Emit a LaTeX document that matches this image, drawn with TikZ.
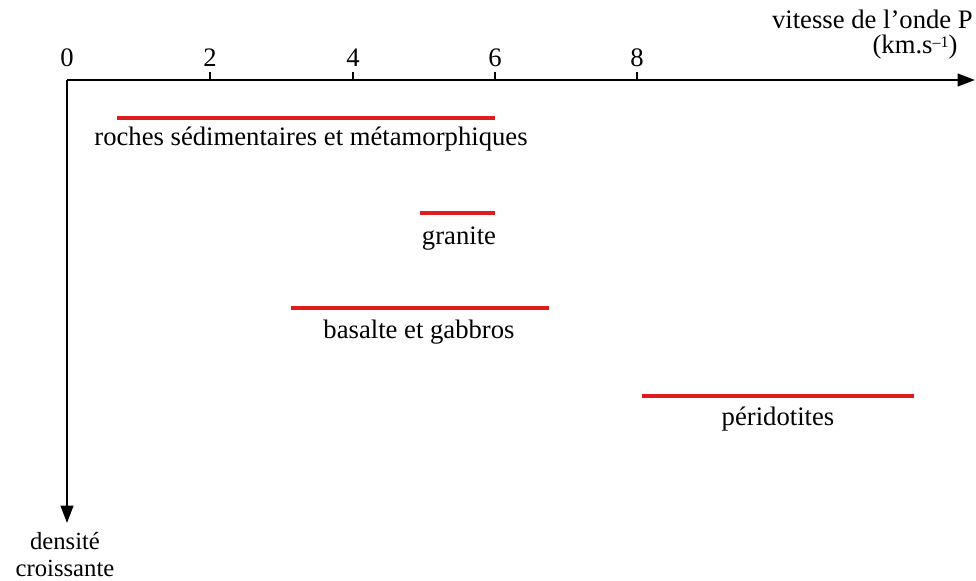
\documentclass[tikz,border=0pt]{standalone}
\usepackage{fontspec}
\setmainfont{Liberation Serif}
\usetikzlibrary{arrows.meta}
\definecolor{rockred}{RGB}{222,28,28}
\tikzset{
  axisline/.style={line width=1.4pt, -{Triangle[length=13pt,width=9.5pt]}},
  tickline/.style={line width=1.2pt},
  rockrange/.style={line width=2.4pt, rockred},
  lbl/.style={font=\fontsize{20}{22}\selectfont, inner sep=0pt},
  tightlbl/.style={font=\fontsize{18.5}{20}\selectfont, inner sep=0pt, text height=13pt, text depth=0pt, anchor=base},
  ticklbl/.style={font=\fontsize{20}{22}\selectfont, inner sep=0pt, anchor=base},
}
\begin{document}
\begin{tikzpicture}[x=0.75pt,y=-0.75pt]
\useasboundingbox (0,0) rectangle (976,581);
% axes
\coordinate (O) at (67,80);
\coordinate (xend) at (975,80);
\coordinate (yend) at (67,523);
\draw[axisline] (O) -- (xend);
\draw[axisline] (O) -- (yend);
% ticks
\foreach \v/\px in {2/210,4/353,6/495,8/637}{
  \coordinate (t\v) at (\px,80);
  \draw[tickline] (t\v) -- ++(0,-8);
  \node[ticklbl] (tl\v) at (\px,67) {\v};
}
\node[ticklbl] (tl0) at (67,67) {0};
% axis labels
\node[lbl, anchor=base east] (xl1) at (973,29) {vitesse de l’onde P};
\node[lbl, anchor=base] (xl2) at (915,54) {(km.s\raisebox{0.5ex}{\fontsize{12}{12}\selectfont –1})};
\node[tightlbl] (yl1) at (65,549) {densité};
\node[tightlbl] (yl2) at (65,576) {croissante};
% ranges
\coordinate (r1a) at (117,118); \coordinate (r1b) at (495,118);
\draw[rockrange] (r1a) -- (r1b);
\node[lbl, anchor=base] (n1) at (311,146) {roches sédimentaires et métamorphiques};
\coordinate (r2a) at (420,213); \coordinate (r2b) at (495,213);
\draw[rockrange] (r2a) -- (r2b);
\node[lbl, anchor=base] (n2) at (459,245) {granite};
\coordinate (r3a) at (291,308); \coordinate (r3b) at (549,308);
\draw[rockrange] (r3a) -- (r3b);
\node[lbl, anchor=base] (n3) at (419,339) {basalte et gabbros};
\coordinate (r4a) at (642,396); \coordinate (r4b) at (914,396);
\draw[rockrange] (r4a) -- (r4b);
\node[lbl, anchor=base] (n4) at (778,426) {péridotites};
\end{tikzpicture}
\end{document}
